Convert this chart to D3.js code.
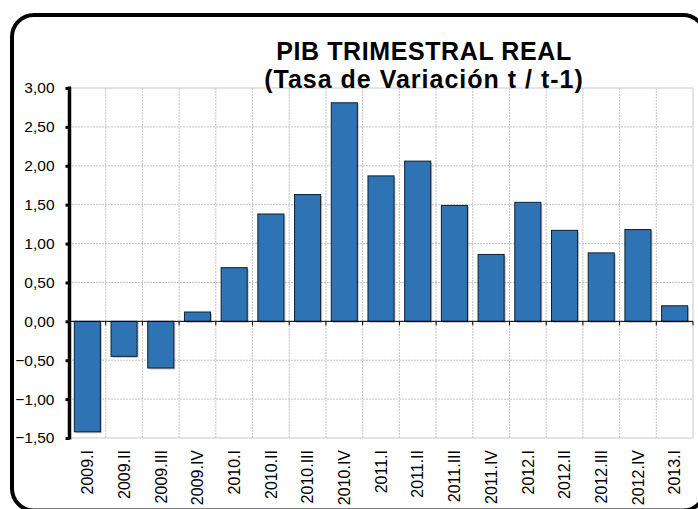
<!DOCTYPE html>
<html>
<head>
<meta charset="utf-8">
<script src="https://cdn.jsdelivr.net/npm/d3@7"></script>
<style>
  html, body { margin: 0; padding: 0; background: #fff; }
  svg { display: block; font-family: "Liberation Sans", Arial, sans-serif; }
</style>
</head>
<body>
<svg id="chart" width="698" height="509"></svg>
<script>
const categories = ["2009.I","2009.II","2009.III","2009.IV","2010.I","2010.II","2010.III","2010.IV",
  "2011.I","2011.II","2011.III","2011.IV","2012.I","2012.II","2012.III","2012.IV","2013.I"];
const values = [-1.42,-0.45,-0.60,0.12,0.69,1.38,1.63,2.81,1.87,2.06,1.49,0.86,1.53,1.17,0.88,1.18,0.20];
const yTicks = [-1.5,-1.0,-0.5,0,0.5,1.0,1.5,2.0,2.5,3.0];
const titleLines = ["PIB TRIMESTRAL REAL", "(Tasa de Variación t / t-1)"];

const svg = d3.select("#chart");
const plot = {left: 69, right: 693, top: 88, bottom: 438};
const FONT = "'Liberation Sans', Arial, sans-serif";

const locale = d3.formatLocale({decimal: ",", thousands: ".", grouping: [3], currency: ["", "€"]});
const fmt = locale.format(".2f");

const x = d3.scaleBand().domain(categories).range([plot.left, plot.right]).paddingInner(0.29).paddingOuter(0.145);
const xb = d3.scaleBand().domain(categories).range([plot.left, plot.right]).padding(0);
const y = d3.scaleLinear().domain([-1.5, 3.0]).range([plot.bottom, plot.top]);

// outer rounded border
svg.append("rect")
  .attr("x", 12).attr("y", 15).attr("width", 693).attr("height", 495.5)
  .attr("rx", 22).attr("ry", 22)
  .attr("fill", "#fff").attr("stroke", "#000").attr("stroke-width", 4);

// gridlines
const grid = svg.append("g");
grid.selectAll("line.h").data(yTicks.filter(d => d > -1.5 && d < 3.0)).enter().append("line")
  .attr("x1", plot.left).attr("x2", plot.right)
  .attr("y1", d => y(d)).attr("y2", d => y(d))
  .attr("stroke", "#c4c4c4").attr("stroke-width", 1).attr("stroke-dasharray", "2,1");
grid.selectAll("line.v").data(categories.slice(1)).enter().append("line")
  .attr("x1", d => xb(d)).attr("x2", d => xb(d))
  .attr("y1", plot.top).attr("y2", plot.bottom)
  .attr("stroke", "#c4c4c4").attr("stroke-width", 1).attr("stroke-dasharray", "2,1");
// plot frame (top, right, bottom)
svg.append("path")
  .attr("d", `M${plot.left},${plot.top}H${plot.right}V${plot.bottom}H${plot.left}`)
  .attr("fill", "none").attr("stroke", "#c8c8c8").attr("stroke-width", 1);

// title
svg.append("text").attr("x", 424).attr("y", 59.5).attr("text-anchor", "middle")
  .attr("font-family", FONT).attr("font-size", 25).attr("font-weight", "bold")
  .attr("letter-spacing", 0.6).attr("fill", "#000").text(titleLines[0]);
svg.append("text").attr("x", 424).attr("y", 87.5).attr("text-anchor", "middle")
  .attr("font-family", FONT).attr("font-size", 25).attr("font-weight", "bold")
  .attr("letter-spacing", 1.0).attr("fill", "#000").text(titleLines[1]);

// bars shadow
svg.append("g").selectAll("rect").data(values).enter().append("rect")
  .attr("x", (d, i) => x(categories[i]) + 1.5)
  .attr("y", d => Math.min(y(d), y(0)) + 1.5)
  .attr("width", x.bandwidth())
  .attr("height", d => Math.abs(y(d) - y(0)))
  .attr("fill", "#9a9a9a").attr("opacity", 0.6);
// bars
svg.append("g").selectAll("rect").data(values).enter().append("rect")
  .attr("x", (d, i) => x(categories[i]))
  .attr("y", d => Math.min(y(d), y(0)))
  .attr("width", x.bandwidth())
  .attr("height", d => Math.abs(y(d) - y(0)))
  .attr("fill", "#2E74B5").attr("stroke", "#0f1e2e").attr("stroke-width", 1);

// zero axis line with ticks
const zero = svg.append("g");
zero.append("line").attr("x1", plot.left).attr("x2", plot.right)
  .attr("y1", y(0)).attr("y2", y(0)).attr("stroke", "#000").attr("stroke-width", 1);
zero.selectAll("line.t").data(categories.slice(1).map(c => xb(c)).concat([plot.right])).enter().append("line")
  .attr("x1", d => d).attr("x2", d => d)
  .attr("y1", y(0)).attr("y2", y(0) + 4)
  .attr("stroke", "#000").attr("stroke-width", 1);

// y axis
const yAxis = d3.axisLeft(y).tickValues(yTicks).tickSize(4).tickPadding(11).tickFormat(d => fmt(d));
const ya = svg.append("g").attr("transform", `translate(${plot.left + 0.5},0)`).call(yAxis);
ya.attr("font-family", FONT);
ya.select(".domain").attr("stroke", "#000").attr("stroke-width", 3.5).attr("d", `M0,${plot.top - 1.5}V${plot.bottom + 1.5}`);
ya.selectAll(".tick line").attr("stroke", "#000").attr("stroke-width", 3);
ya.selectAll(".tick text").attr("font-size", 15.5).attr("fill", "#000").attr("font-family", FONT);

// x labels
const xa = svg.append("g");
xa.selectAll("text").data(categories).enter().append("text")
  .attr("transform", d => `translate(${xb(d) + xb.bandwidth() / 2},450) rotate(-90)`)
  .attr("text-anchor", "end").attr("dy", "0.36em")
  .attr("font-family", FONT).attr("font-size", 16).attr("fill", "#000")
  .text(d => d);
</script>
</body>
</html>
